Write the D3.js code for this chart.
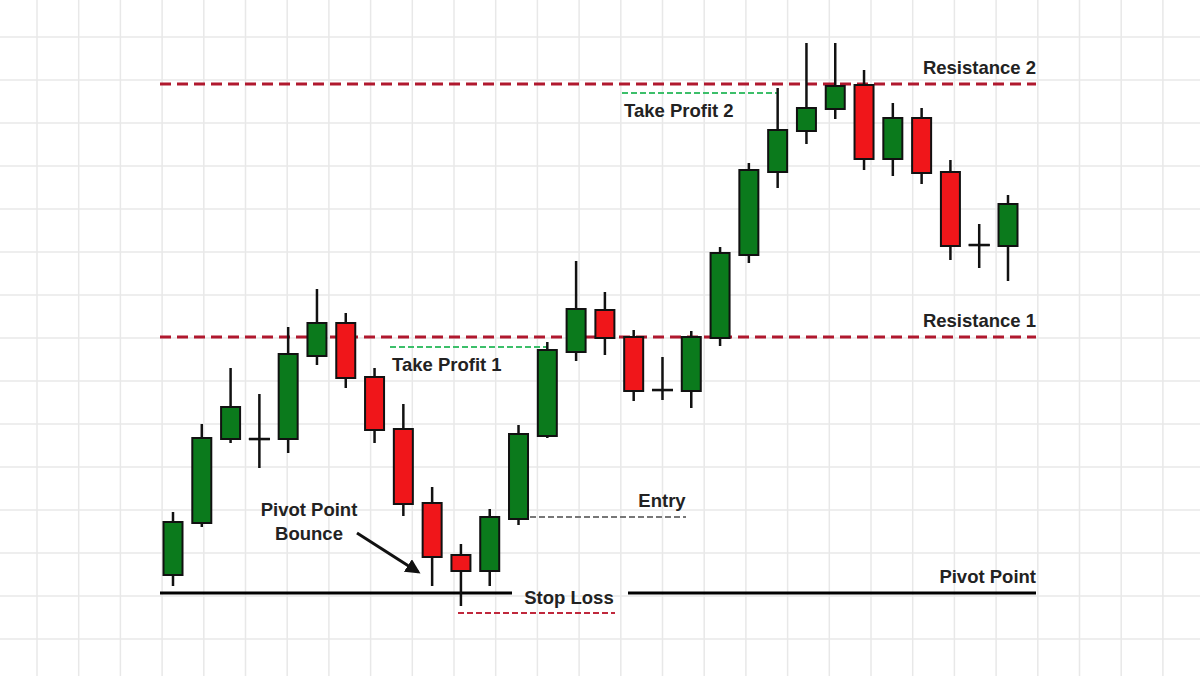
<!DOCTYPE html>
<html>
<head>
<meta charset="utf-8">
<script src="https://cdn.jsdelivr.net/npm/d3@7"></script>
<style>
  body { margin: 0; background: #fff; }
  text { font-family: "Liberation Sans", Arial, sans-serif; font-weight: bold; fill: #222; }
</style>
</head>
<body>
<svg id="chart" width="1200" height="676"></svg>
<script>
// Candle data (price units)
const opens  = [125,177,261,261,261,344,377,323,271,197,145,129,181,264,348,390,363,310,309,362,445,528,569,591,615,541,582,528,455,454];
const highs  = [188,276,332,306,373,411,387,332,296,213,156,191,275,358,439,408,370,343,369,453,537,612,657,657,630,597,592,540,476,505];
const lows   = [114,173,257,232,247,335,312,257,184,114, 94,114,175,262,339,345,299,300,292,354,437,512,556,581,530,524,516,440,432,419];
const closes = [178,262,293,261,346,377,322,270,196,143,129,183,266,350,391,362,309,310,363,447,530,570,592,614,541,582,527,454,455,496];

// Levels
const levelNames  = ["Resistance 2", "Resistance 1", "Pivot Point"];
const levelValues = [616, 363, 107];
const takeProfit = [353, 607];
const entryLevel = 183;
const stopLevel = 87;

const svg = d3.select("#chart");
const W = 1200, H = 676;

// Background grid
const gx = d3.range(37, W, 41.7);
const gy = d3.range(-6, H, 43);
svg.selectAll(".gx").data(gx).join("line")
  .attr("x1", d => d).attr("x2", d => d).attr("y1", 0).attr("y2", H)
  .attr("stroke", "#e8e8e8").attr("stroke-width", 1.5);
svg.selectAll(".gy").data(gy).join("line")
  .attr("y1", d => d).attr("y2", d => d).attr("x1", 0).attr("x2", W)
  .attr("stroke", "#e8e8e8").attr("stroke-width", 1.5);

const x = d3.scaleLinear().domain([0, opens.length - 1]).range([173, 1008]);
const y = d3.scaleLinear().domain([0, 700]).range([700, 0]);
const bw = 19;

// Resistance lines
svg.selectAll(".res").data(levelValues.slice(0, 2)).join("line")
  .attr("x1", 160).attr("x2", 1036)
  .attr("y1", d => y(d)).attr("y2", d => y(d))
  .attr("stroke", "#b0182e").attr("stroke-width", 3).attr("stroke-dasharray", "11,6");

// Pivot line (broken around "Stop Loss")
[[160, 512], [628, 1036]].forEach(([a, b]) => {
  svg.append("line").attr("x1", a).attr("x2", b)
    .attr("y1", y(levelValues[2])).attr("y2", y(levelValues[2]))
    .attr("stroke", "#000").attr("stroke-width", 3);
});

// Take profit lines
[[390, 548], [622, 778]].forEach(([a, b], i) => {
  svg.append("line").attr("x1", a).attr("x2", b)
    .attr("y1", y(takeProfit[i])).attr("y2", y(takeProfit[i]))
    .attr("stroke", "#3cbf6a").attr("stroke-width", 2).attr("stroke-dasharray", "6,3");
});

// Entry and stop loss lines
svg.append("line").attr("x1", 530).attr("x2", 686)
  .attr("y1", y(entryLevel)).attr("y2", y(entryLevel))
  .attr("stroke", "#777").attr("stroke-width", 2).attr("stroke-dasharray", "6,3");
svg.append("line").attr("x1", 458).attr("x2", 615)
  .attr("y1", y(stopLevel)).attr("y2", y(stopLevel))
  .attr("stroke", "#c0283c").attr("stroke-width", 2).attr("stroke-dasharray", "6,3");

// Candles
const idx = d3.range(opens.length);
svg.selectAll(".wick").data(idx).join("line")
  .attr("x1", i => x(i)).attr("x2", i => x(i))
  .attr("y1", i => y(highs[i])).attr("y2", i => y(lows[i]))
  .attr("stroke", "#111").attr("stroke-width", 2.5);
svg.selectAll(".body").data(idx).join("rect")
  .attr("x", i => x(i) - bw / 2)
  .attr("width", bw)
  .attr("y", i => y(Math.max(opens[i], closes[i])))
  .attr("height", i => Math.max(0.1, Math.abs(y(opens[i]) - y(closes[i]))))
  .attr("fill", i => closes[i] > opens[i] ? "#0b7a1c" : "#f0161a")
  .attr("stroke", "#111").attr("stroke-width", 2);
// Doji crosses
svg.selectAll(".doji").data(idx.filter(i => opens[i] === closes[i])).join("line")
  .attr("x1", i => x(i) - bw / 2 - 1).attr("x2", i => x(i) + bw / 2 + 1)
  .attr("y1", i => y(opens[i])).attr("y2", i => y(opens[i]))
  .attr("stroke", "#111").attr("stroke-width", 2.5);

// Labels
const fs = "18.5px";
svg.selectAll(".lvl").data(levelNames).join("text")
  .attr("x", 1036).attr("y", (d, i) => y(levelValues[i]) - 10)
  .attr("text-anchor", "end").attr("font-size", fs).text(d => d);
svg.append("text").attr("x", 392).attr("y", y(takeProfit[0]) + 24).attr("font-size", fs).text("Take Profit  1");
svg.append("text").attr("x", 624).attr("y", y(takeProfit[1]) + 24).attr("font-size", fs).text("Take Profit  2");
svg.append("text").attr("x", 662).attr("y", y(entryLevel) - 10).attr("text-anchor", "middle").attr("font-size", fs).text("Entry");
svg.append("text").attr("x", 569).attr("y", y(levelValues[2]) + 11).attr("text-anchor", "middle").attr("font-size", fs).text("Stop Loss");
svg.append("text").attr("x", 309).attr("y", 516).attr("text-anchor", "middle").attr("font-size", fs).text("Pivot Point");
svg.append("text").attr("x", 309).attr("y", 540).attr("text-anchor", "middle").attr("font-size", fs).text("Bounce");

// Arrow
svg.append("defs").append("marker")
  .attr("id", "arr").attr("viewBox", "0 0 10 10").attr("refX", 8).attr("refY", 5)
  .attr("markerWidth", 5).attr("markerHeight", 5).attr("orient", "auto")
  .append("path").attr("d", "M0,0L10,5L0,10z").attr("fill", "#111");
svg.append("line").attr("x1", 357).attr("y1", 533).attr("x2", 418).attr("y2", 572)
  .attr("stroke", "#111").attr("stroke-width", 3).attr("marker-end", "url(#arr)");
</script>
</body>
</html>
